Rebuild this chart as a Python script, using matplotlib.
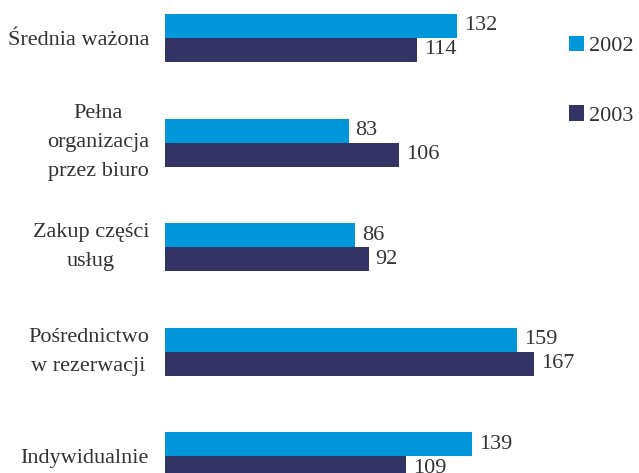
import matplotlib
matplotlib.use("Agg")
import matplotlib.pyplot as plt
import numpy as np

categories = ["Średnia ważona", "Pełna\norganizacja\nprzez biuro", "Zakup części\nusług",
              "Pośrednictwo\nw rezerwacji", "Indywidualnie"]
series_names = ["2002", "2003"]
values_2002 = [132, 83, 86, 159, 139]
values_2003 = [114, 106, 92, 167, 109]

c2002 = "#0096DA"
c2003 = "#333366"
tcol = "#333333"

plt.rcParams["font.family"] = ["Liberation Serif", "DejaVu Serif"]

W, H = 639, 473
fig = plt.figure(figsize=(W / 100, H / 100), dpi=100)
left_px, right_px = 165, 565
ax = fig.add_axes([left_px / W, 0, (right_px - left_px) / W, 1])

px_per_unit = 2.212
spacing_px = 104.6
ax.set_xlim(0, (right_px - left_px) / px_per_unit)
top = -38 / spacing_px
bottom = (H - 38) / spacing_px
ax.set_ylim(bottom, top)

y = np.arange(len(categories))
h = 24 / spacing_px
ax.barh(y - h / 2, values_2002, height=h, color=c2002, label=series_names[0])
ax.barh(y + h / 2, values_2003, height=h, color=c2003, label=series_names[1])

off = 7 / px_per_unit
for yi, v in zip(y, values_2002):
    ax.text(v + off, yi - h / 2, str(v), va="center", ha="left", fontsize=16, color=tcol)
for yi, v in zip(y, values_2003):
    ax.text(v + off, yi + h / 2, str(v), va="center", ha="left", fontsize=16, color=tcol)

ax.set_yticks(y)
ax.set_yticklabels(categories, fontsize=16, color=tcol, multialignment="center",
                   linespacing=1.7)
for lbl in ax.get_yticklabels():
    if "\n" in lbl.get_text():
        lbl.set_va("center")
    else:
        lbl.set_va("center_baseline")
ax.tick_params(axis="y", length=0, pad=11.5)
ax.set_xticks([])
for s in ax.spines.values():
    s.set_visible(False)

leg = fig.legend(loc="upper left", bbox_to_anchor=(569 / W, 1 - 36 / H), frameon=False,
                 fontsize=16, handlelength=0.68, handleheight=0.68, handletextpad=0.2,
                 labelspacing=2.2, borderpad=0, borderaxespad=0)
for t in leg.get_texts():
    t.set_color(tcol)

fig.savefig("out.png", dpi=100)
